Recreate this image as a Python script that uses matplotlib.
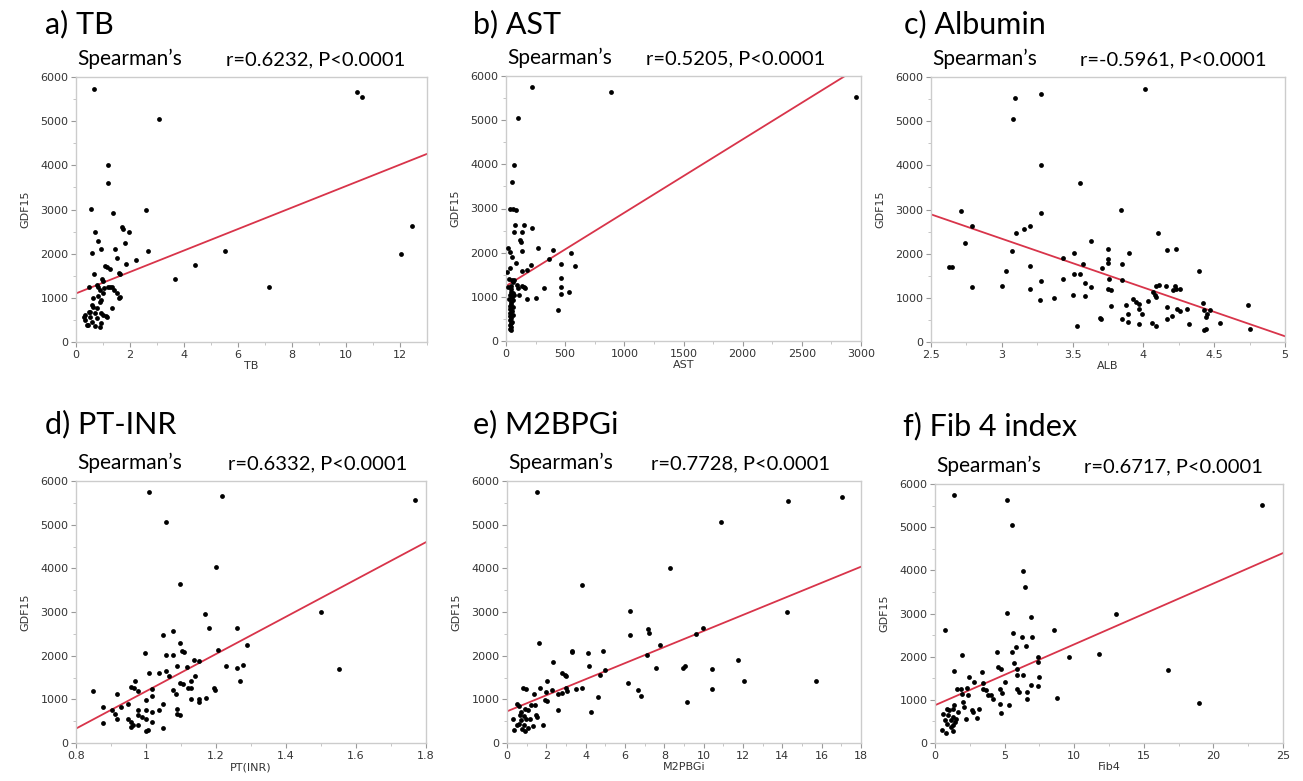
import numpy as np
import matplotlib.pyplot as plt
from matplotlib.ticker import MultipleLocator

# datos (x, GDF15)
tb_x = [0.67, 3.09, 10.4, 10.6, 1.19, 1.20, 0.54, 1.37, 2.58, 0.70, 0.80, 1.72, 1.74, 1.96, 1.80,
        0.92, 1.45, 0.61, 2.68, 1.50, 2.24, 1.86, 4.42, 5.52, 3.65, 7.15, 12.05, 12.45, 0.65, 1.07,
        1.15, 1.25, 1.59, 1.64, 0.97, 1.00, 0.76, 0.82, 0.48, 1.04, 1.19, 1.33, 1.40, 1.00, 1.52,
        1.62, 1.59, 0.82, 0.64, 0.94, 0.88, 0.58, 0.64, 0.76, 1.35, 0.49, 0.70, 0.94, 1.10, 0.51,
        0.33, 0.76, 0.33, 0.58, 0.45, 0.70, 0.88, 0.94, 1.13, 0.42, 1.00, 0.88, 1.25, 0.52, 0.30]
tb_y = [5730, 5050, 5650, 5540, 4000, 3610, 3010, 2930, 2980, 2480, 2280, 2600, 2550, 2480, 2250,
        2110, 2110, 2010, 2070, 1900, 1860, 1770, 1750, 2050, 1420, 1240, 2000, 2620, 1550, 1720,
        1700, 1650, 1570, 1530, 1420, 1380, 1290, 1240, 1255, 1220, 1255, 1255, 1180, 1120, 1105,
        1030, 990, 1050, 985, 950, 915, 840, 800, 765, 765, 690, 650, 650, 590, 575,
        615, 540, 500, 460, 390, 365, 330, 420, 570, 380, 605, 1170, 1250, 680, 560]

ast_x = [223, 887, 2955, 104, 70, 54, 34, 57, 85, 76, 152, 68, 133, 222, 118, 124, 20, 34, 138, 273,
         400, 547, 366, 53, 85, 209, 462, 586, 34, 133, 175, 11, 48, 62, 468, 20, 40, 133, 150, 160,
         324, 468, 462, 530, 180, 251, 442, 40, 45, 55, 30, 50, 25, 60, 40, 45, 35, 55, 30, 48, 38,
         60, 32, 45, 35, 50, 40, 30, 45, 35, 40, 65, 90, 100, 110, 25, 70]
ast_y = [5750, 5630, 5530, 5050, 3990, 3610, 3000, 2980, 2975, 2630, 2630, 2460, 2460, 2550, 2290,
         2235, 2100, 2020, 2045, 2100, 2060, 2000, 1855, 1910, 1770, 1720, 1750, 1705, 1645, 1590,
         1605, 1570, 1380, 1340, 1420, 1230, 1250, 1245, 1230, 1200, 1190, 1230, 1060, 1110, 950,
         980, 700, 1180, 1120, 1080, 1050, 1000, 960, 920, 880, 840, 800, 760, 720, 680, 640, 600,
         560, 520, 480, 440, 400, 360, 320, 280, 250, 1050, 1260, 1200, 1050, 1400, 1380]

alb_x = [4.01, 3.28, 3.09, 3.08, 3.28, 3.55, 3.84, 2.71, 3.28, 2.79, 3.20, 3.16, 3.10, 4.10, 2.74,
         3.63, 3.75, 4.23, 4.17, 3.07, 3.51, 3.90, 3.75, 3.75, 3.43, 3.85, 3.57, 2.63, 2.65, 3.20,
         3.71, 4.39, 3.03, 3.51, 3.55, 3.76, 3.85, 3.43, 3.28, 3.59, 2.79, 3.00, 3.20, 3.63, 3.75,
         3.77, 4.09, 4.11, 4.16, 4.22, 4.23, 4.26, 4.21, 4.07, 4.08, 4.09, 3.50, 3.59, 3.37, 3.27,
         3.93, 3.95, 4.03, 3.97, 3.88, 3.77, 4.74, 4.17, 3.97, 4.24, 4.26, 4.31, 4.42, 4.43, 4.47,
         3.99, 3.89, 4.20, 4.45, 4.44, 3.69, 3.70, 3.85, 4.17, 3.89, 3.97, 4.06, 4.09, 4.32, 4.54,
         3.53, 4.75, 4.43, 4.44]
alb_y = [5730, 5620, 5520, 5050, 4000, 3610, 3000, 2975, 2930, 2625, 2625, 2550, 2475, 2475, 2250,
         2285, 2110, 2110, 2080, 2060, 2005, 2005, 1870, 1780, 1905, 1755, 1755, 1700, 1690, 1725,
         1680, 1605, 1605, 1545, 1545, 1430, 1415, 1420, 1375, 1340, 1235, 1265, 1205, 1250, 1205,
         1175, 1265, 1285, 1265, 1265, 1210, 1205, 1175, 1135, 1060, 1020, 1060, 1045, 1000, 945,
         970, 910, 925, 855, 830, 810, 830, 795, 755, 755, 705, 740, 885, 735, 735,
         630, 630, 590, 645, 565, 550, 530, 530, 530, 455, 400, 430, 365, 415, 430,
         355, 305, 265, 305]

pt_x = [1.009, 1.218, 1.769, 1.057, 1.199, 1.098, 1.169, 1.499, 1.179, 1.259, 1.078, 1.048, 1.098,
        1.288, 1.102, 1.109, 1.207, 0.998, 1.057, 1.078, 1.138, 1.150, 1.229, 1.278, 1.088, 1.259,
        1.550, 1.116, 1.057, 1.038, 1.009, 1.066, 1.140, 0.969, 1.268, 1.097, 1.107, 1.129, 0.957,
        0.967, 1.017, 1.078, 1.119, 1.130, 1.195, 1.197, 0.848, 0.977, 0.916, 1.087, 1.017, 1.130,
        1.150, 1.170, 1.150, 0.999, 0.878, 0.948, 1.048, 0.928, 0.978, 0.999, 1.037, 1.016, 0.903,
        0.910, 1.088, 1.088, 1.097, 0.978, 0.988, 0.916, 0.948, 0.999, 0.878, 0.957, 0.964, 0.978,
        1.006, 0.999, 1.048, 0.957, 1.016]
pt_y = [5755, 5655, 5560, 5070, 4020, 3640, 2955, 2990, 2635, 2635, 2560, 2475, 2285, 2255, 2115,
        2080, 2130, 2065, 2020, 2020, 1905, 1875, 1760, 1775, 1760, 1715, 1700, 1735, 1660, 1600,
        1605, 1545, 1545, 1430, 1430, 1370, 1355, 1430, 1280, 1265, 1240, 1205, 1265, 1265, 1265,
        1225, 1190, 1180, 1125, 1125, 1075, 1015, 1015, 1035, 935, 975, 835, 900, 885, 835,
        745, 745, 760, 710, 745, 670, 785, 670, 630, 630, 595, 555, 555, 555, 455, 480,
        405, 405, 305, 265, 350, 365, 480]

m2_x = [1.54, 17.05, 14.30, 10.86, 8.28, 3.82, 6.23, 14.22, 6.23, 7.18, 7.23, 9.98, 9.61, 7.77, 1.65,
        7.14, 3.33, 3.28, 4.11, 4.87, 2.33, 11.73, 4.17, 7.60, 8.96, 9.05, 10.40, 4.97, 2.82, 2.94,
        3.02, 4.75, 6.14, 12.06, 15.70, 2.04, 3.79, 3.02, 1.66, 0.81, 0.98, 10.40, 6.68, 2.00, 2.31,
        2.60, 2.82, 3.05, 3.49, 1.36, 4.63, 6.79, 1.92, 2.04, 9.13, 0.51, 0.61, 1.24, 1.41, 0.92,
        1.09, 2.60, 4.25, 0.73, 0.65, 0.85, 1.46, 1.53, 0.31, 1.15, 0.73, 0.98, 1.83, 0.61, 0.85,
        1.32, 1.07, 0.34, 0.90, 0.78, 0.51]
m2_y = [5740, 5640, 5540, 5050, 4000, 3615, 3020, 2990, 2470, 2600, 2530, 2635, 2485, 2255, 2280,
        2010, 2110, 2085, 2070, 2110, 1855, 1895, 1760, 1725, 1725, 1765, 1690, 1665, 1605, 1565,
        1530, 1550, 1385, 1415, 1420, 1415, 1270, 1270, 1270, 1270, 1245, 1245, 1210, 1170, 1210,
        1130, 1155, 1190, 1245, 1130, 1055, 1070, 995, 965, 940, 885, 840, 880, 865, 770,
        765, 765, 710, 710, 635, 610, 635, 595, 560, 560, 520, 560, 405, 445, 405,
        390, 345, 290, 270, 330, 405]

fib_x = [1.36, 5.19, 5.50, 23.52, 6.34, 6.46, 5.19, 12.97, 6.87, 0.72, 8.56, 5.62, 6.22, 6.94, 5.81,
         6.51, 1.94, 5.50, 4.43, 9.64, 11.77, 7.37, 7.42, 5.67, 4.55, 4.75, 5.86, 16.75, 1.36, 3.40,
         5.91, 6.34, 2.46, 7.46, 5.02, 3.42, 6.87, 7.42, 2.82, 1.56, 1.84, 2.27, 3.47, 3.66, 2.39,
         4.67, 5.91, 6.05, 6.58, 3.78, 4.02, 4.78, 1.91, 4.19, 1.99, 8.73, 6.58, 18.97, 4.67, 5.31,
         1.39, 2.11, 1.27, 0.84, 1.03, 2.63, 2.75, 3.16, 1.63, 4.74, 0.55, 0.96, 1.27, 1.51, 2.22,
         2.99, 0.72, 1.12, 0.89, 1.32, 0.53, 0.79, 1.32, 1.12, 1.44]
fib_y = [5735, 5635, 5055, 5525, 3995, 3610, 3020, 2980, 2925, 2615, 2610, 2540, 2460, 2455, 2230,
         2255, 2050, 2100, 2105, 2000, 2060, 2000, 1880, 1845, 1750, 1725, 1725, 1690, 1670, 1650,
         1570, 1570, 1535, 1535, 1415, 1400, 1355, 1325, 1415, 1260, 1240, 1285, 1240, 1225, 1105,
         1240, 1240, 1185, 1185, 1105, 1105, 1160, 1145, 1030, 950, 1045, 1030, 930, 900, 875,
         875, 835, 795, 795, 760, 760, 720, 795, 720, 695, 680, 645, 605, 565, 565,
         590, 525, 540, 450, 410, 310, 240, 280, 370, 490]

# recta de regresion (valor en el limite izquierdo, pendiente)
fit_start = [1100, 1245, 2890, 330, 725, 875]
fit_slope = [243, 1.66, -1104, 4270, 184, 141]

titles = ["a) TB", "b) AST", "c) Albumin", "d) PT-INR", "e) M2BPGi", "f) Fib 4 index"]
stats = ["r=0.6232, P<0.0001", "r=0.5205, P<0.0001", "r=-0.5961, P<0.0001",
         "r=0.6332, P<0.0001", "r=0.7728, P<0.0001", "r=0.6717, P<0.0001"]
xlabels = ["TB", "AST", "ALB", "PT(INR)", "M2PBGi", "Fib4"]
xlims = [(0, 13), (0, 3000), (2.5, 5), (0.8, 1.8), (0, 18), (0, 25)]
xmajor = [2, 500, 0.5, 0.2, 2, 5]
xs = [tb_x, ast_x, alb_x, pt_x, m2_x, fib_x]
ys = [tb_y, ast_y, alb_y, pt_y, m2_y, fib_y]

W, H = 1303, 781
fig = plt.figure(figsize=(W / 100, H / 100), dpi=100)

# cajas de los ejes en pixeles: izquierda, arriba, derecha, abajo
boxes = [(76, 77, 427, 342), (506, 76, 861, 341), (931, 77, 1285, 342),
         (76, 481, 426, 743), (507, 481, 861, 743), (935, 484, 1283, 743)]
title_pos = [(45, 24), (473, 24), (904, 24), (45, 424), (473, 424), (903, 426)]
stat_right = [405, 825, 1266, 407, 830, 1263]

tick_col = '#333333'
for i in range(6):
    l, t, r, b = boxes[i]
    ax = fig.add_axes([l / W, 1 - b / H, (r - l) / W, (b - t) / H])
    ax.scatter(xs[i], ys[i], s=12, color='black', linewidths=0, zorder=3)
    x0, x1 = xlims[i]
    lx = np.array([x0, x1])
    ax.plot(lx, fit_start[i] + fit_slope[i] * (lx - x0), color='#d8344a', lw=1.3, zorder=2)
    ax.set_xlim(x0, x1)
    ax.set_ylim(0, 6000)
    ax.xaxis.set_major_locator(MultipleLocator(xmajor[i]))
    ax.xaxis.set_minor_locator(MultipleLocator(xmajor[i] / 2))
    ax.yaxis.set_major_locator(MultipleLocator(1000))
    ax.yaxis.set_minor_locator(MultipleLocator(500))
    ax.xaxis.set_major_formatter(lambda v, p: f"{v:g}")
    ax.tick_params(which='major', length=3.5, width=0.8, color='#999999', labelsize=8,
                   labelcolor=tick_col, pad=2)
    ax.tick_params(which='minor', length=2, width=0.6, color='#bbbbbb')
    for s in ax.spines.values():
        s.set_color('#cccccc')
        s.set_linewidth(1)
    ax.set_xlabel(xlabels[i], fontsize=8, color=tick_col, labelpad=1)
    ax.set_ylabel("GDF15", fontsize=8, color=tick_col, labelpad=7)

    tx, ty = title_pos[i]
    fig.text(tx / W, 1 - ty / H, titles[i], fontsize=22, family='Lato', va='center', ha='left')
    fig.text((l + 1) / W, 1 - (t - 12) / H, "Spearman\u2019s", fontsize=15, family='Lato',
             va='baseline', ha='left')
    fig.text(stat_right[i] / W, 1 - (t - 12) / H, stats[i], fontsize=14.5, family='Lato',
             va='baseline', ha='right')

fig.savefig("out.png", dpi=100)
